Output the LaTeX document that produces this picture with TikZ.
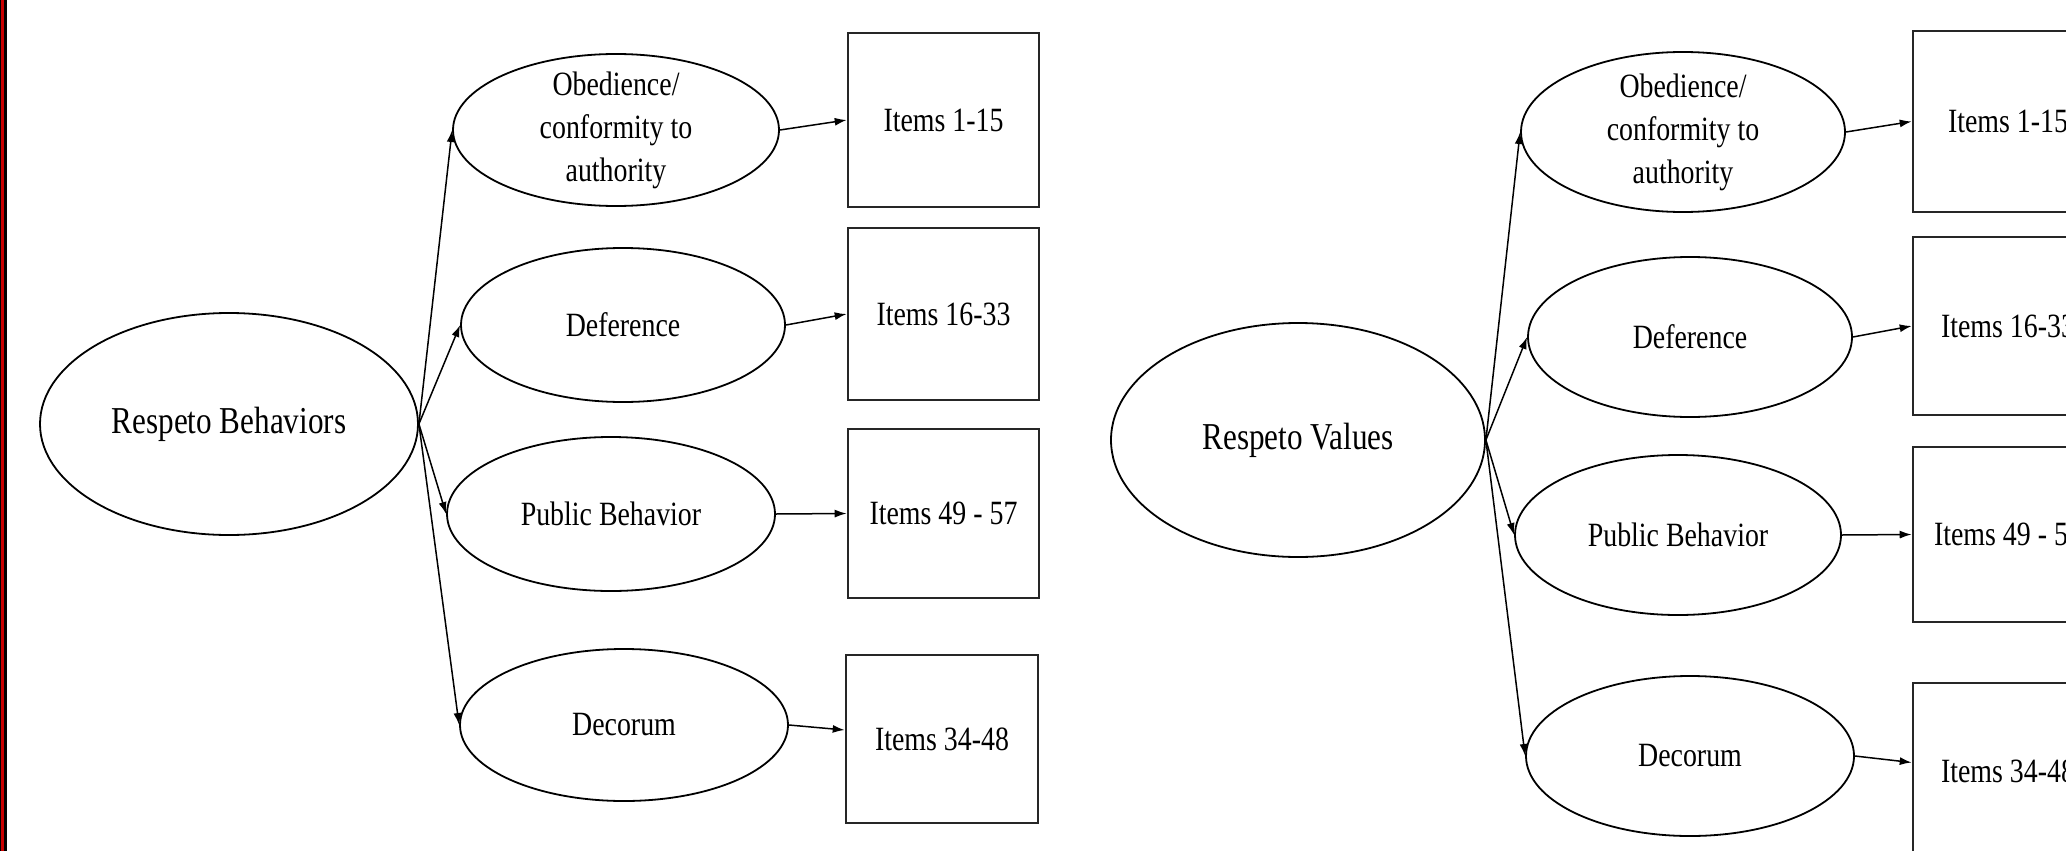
\documentclass[tikz,border=0pt]{standalone}
\usepackage{fontspec}
\setmainfont{Liberation Serif}[FakeStretch=0.82]
\usetikzlibrary{shapes.geometric,arrows.meta}
\definecolor{edgered}{RGB}{200,0,0}
\begin{document}
\begin{tikzpicture}[x=1pt,y=-1pt,
  oval/.style={draw,ellipse,line width=1.8pt,inner sep=0pt},
  lbl/.style={align=center,inner sep=0pt,font=\fontsize{34}{43}\selectfont},
  biglbl/.style={align=center,inner sep=0pt,font=\fontsize{38}{46}\selectfont},
  itembox/.style={draw=black!85,line width=2.6pt,inner sep=0pt,font=\fontsize{34}{43}\selectfont},
  conn/.style={line width=1.5pt,-{Latex[length=12pt,width=8pt]}}
]
\useasboundingbox (0,0) rectangle (2066,851);
\clip (0,0) rectangle (2066,851);
\fill[white] (0,0) rectangle (2066,851);
% left border
\fill[black] (0,0) rectangle (6.7,851);
\fill[edgered] (1,0) rectangle (4.3,851);

% ---------- left diagram ----------
\node[oval,minimum width=378pt,minimum height=222pt] (beh) at (229,424) {};
\node[biglbl] (behT) at (beh.center) {Respeto Behaviors};

\node[oval,minimum width=326pt,minimum height=152pt] (OL) at (616,130) {};
\node[lbl] (OLt) at (OL.center) {Obedience/\\conformity to\\authority};
\node[oval,minimum width=324pt,minimum height=154pt] (DL) at (623,325) {};
\node[lbl] (DLt) at (DL.center) {Deference};
\node[oval,minimum width=328pt,minimum height=154pt] (PL) at (611,514) {};
\node[lbl] (PLt) at (PL.center) {Public Behavior};
\node[oval,minimum width=328pt,minimum height=152pt] (CL) at (624,725) {};
\node[lbl] (CLt) at (CL.center) {Decorum};

\node[itembox,minimum width=191pt,minimum height=174pt] (B1) at (943.5,120) {Items 1-15};
\node[itembox,minimum width=191pt,minimum height=172pt] (B2) at (943.5,314) {Items 16-33};
\node[itembox,minimum width=191pt,minimum height=169pt] (B3) at (943.5,513.5) {Items 49 - 57};
\node[itembox,minimum width=192pt,minimum height=168pt] (B4) at (942,739) {Items 34-48};

\draw[conn] (beh.east) -- (OL.west);
\draw[conn] (beh.east) -- (DL.west);
\draw[conn] (beh.east) -- (PL.west);
\draw[conn] (beh.east) -- (CL.west);
\draw[conn] (OL.east) -- (B1.west);
\draw[conn] (DL.east) -- (B2.west);
\draw[conn] (PL.east) -- (B3.west);
\draw[conn] (CL.east) -- ([yshift=9pt]B4.west);

% ---------- right diagram ----------
\node[oval,minimum width=374pt,minimum height=234pt] (val) at (1298,440) {};
\node[biglbl] (valT) at (val.center) {Respeto Values};

\node[oval,minimum width=324pt,minimum height=160pt] (OR) at (1683,132) {};
\node[lbl] (ORt) at (OR.center) {Obedience/\\conformity to\\authority};
\node[oval,minimum width=324pt,minimum height=160pt] (DR) at (1690,337) {};
\node[lbl] (DRt) at (DR.center) {Deference};
\node[oval,minimum width=326pt,minimum height=160pt] (PR) at (1678,535) {};
\node[lbl] (PRt) at (PR.center) {Public Behavior};
\node[oval,minimum width=328pt,minimum height=160pt] (CR) at (1690,756) {};
\node[lbl] (CRt) at (CR.center) {Decorum};

\node[itembox,minimum width=190pt,minimum height=181pt] (R1) at (2008,121.5) {Items 1-15};
\node[itembox,minimum width=190pt,minimum height=178pt] (R2) at (2008,326) {Items 16-33};
\node[itembox,minimum width=190pt,minimum height=175pt] (R3) at (2008,534.5) {Items 49 - 57};
\node[itembox,minimum width=190pt,minimum height=177pt] (R4) at (2008,771.5) {Items 34-48};

\draw[conn] (val.east) -- (OR.west);
\draw[conn] (val.east) -- (DR.west);
\draw[conn] (val.east) -- (PR.west);
\draw[conn] (val.east) -- (CR.west);
\draw[conn] (OR.east) -- (R1.west);
\draw[conn] (DR.east) -- (R2.west);
\draw[conn] (PR.east) -- (R3.west);
\draw[conn] (CR.east) -- ([yshift=9pt]R4.west);
\end{tikzpicture}
\end{document}
